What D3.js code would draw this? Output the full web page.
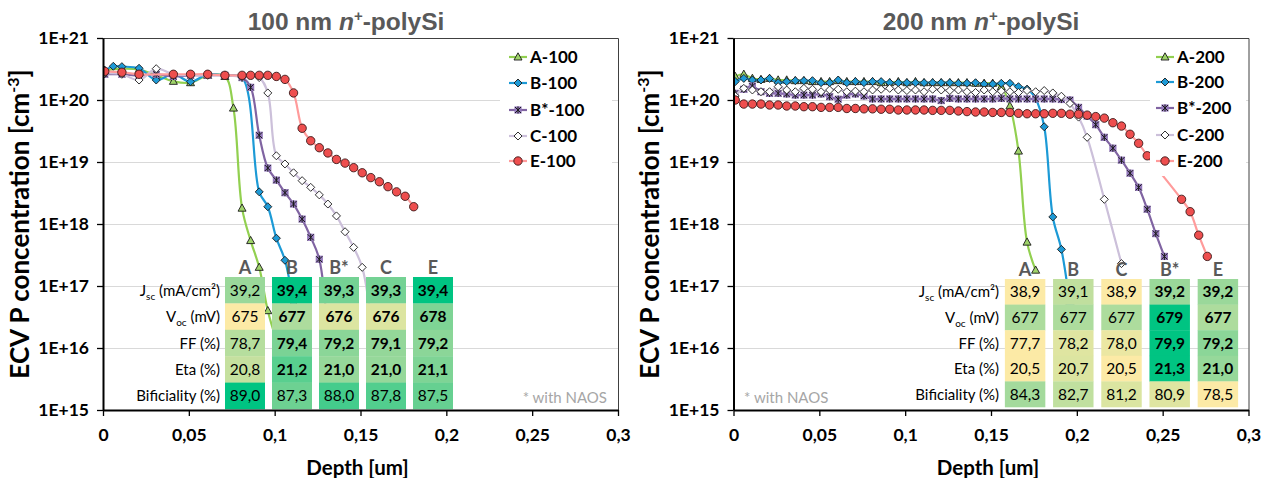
<!DOCTYPE html>
<html><head><meta charset="utf-8">
<script src="https://cdn.jsdelivr.net/npm/d3@7"></script>
<style>
body{margin:0;background:#fff;}
svg{display:block;font-family:Lato, "Open Sans", sans-serif;}
</style></head>
<body><svg id="chart" width="1266" height="478"></svg>
<script>
// ---------------- DATA ----------------
const yTickValues = [1e15,1e16,1e17,1e18,1e19,1e20,1e21];
const xTickValues = [0,0.05,0.1,0.15,0.2,0.25,0.3];

// 100 nm panel : depth grid (um) and ECV P concentration (cm^-3), null = no point
const depth100 = [0.001,0.006,0.011,0.016,0.021,0.026,0.031,0.036,0.041,0.046,
  0.051,0.056,0.061,0.066,0.071,0.076,0.081,0.086,0.091,0.096,
  0.101,0.106,0.111,0.116,0.121,0.126,0.131,0.136,0.141,0.146,
  0.151,0.156,0.161,0.166,0.171,0.176,0.181];
const A100 = [3.0e20,null,3.2e20,null,3.1e20,null,2.5e20,null,2.0e20,null,
  1.9e20,null,2.5e20,null,2.4e20,7.4e19,1.8e18,5.4e17,2.0e17,4.0e16,
  1.35e16,null,null,null,null,null,null,null,null,null,
  null,null,null,null,null,null,null];
const B100 = [3.0e20,3.5e20,3.45e20,null,3.25e20,null,2.1e20,null,2.6e20,null,
  1.97e20,null,2.6e20,null,2.5e20,null,2.3e20,null,3.3e18,1.9e18,
  5.9e17,2.6e17,5.0e16,null,null,null,null,null,null,null,
  null,null,null,null,null,null,null];
const Bs100 = [2.6e20,null,2.6e20,null,2.5e20,null,2.6e20,null,2.4e20,null,
  2.5e20,null,2.5e20,null,2.5e20,null,2.3e20,1.6e20,2.7e19,8.0e18,
  5.1e18,3.2e18,2.1e18,1.2e18,6.1e17,2.7e17,1.5e16,null,null,null,
  null,null,null,null,null,null,null];
const C100 = [2.7e20,null,2.6e20,null,2.1e20,null,3.2e20,null,2.6e20,null,
  2.5e20,null,2.5e20,null,2.5e20,null,2.4e20,null,2.3e20,1.3e20,
  1.26e19,9.3e18,6.7e18,5.0e18,3.9e18,2.95e18,2.1e18,1.35e18,7.5e17,4.2e17,
  2.0e17,3.0e16,null,null,null,null,null];
const E100 = [2.9e20,null,2.8e20,null,2.6e20,null,null,null,2.6e20,null,
  2.6e20,null,2.6e20,null,2.5e20,null,2.5e20,2.5e20,2.5e20,2.5e20,
  2.4e20,2.15e20,1.3e20,3.5e19,2.2e19,1.7e19,1.4e19,1.1e19,9.6e18,8.1e18,
  6.7e18,5.6e18,4.8e18,4.0e18,3.3e18,2.8e18,1.9e18];

// 200 nm panel
const depth200 = [0.001,0.006,0.011,0.016,0.021,0.026,0.031,0.036,0.041,0.046,
  0.051,0.056,0.061,0.066,0.071,0.076,0.081,0.086,0.091,0.096,
  0.101,0.106,0.111,0.116,0.121,0.126,0.131,0.136,0.141,0.146,
  0.151,0.156,0.161,0.166,0.171,0.176,0.181,0.186,0.191,0.196,
  0.201,0.206,0.211,0.216,0.221,0.226,0.231,0.236,0.241,0.246,
  0.251,0.256,0.261,0.266,0.271,0.276];
const A200 = [2.4e20,2.6e20,2.23e20,2.15e20,2.23e20,2.1e20,2.1e20,2.05e20,2.05e20,1.98e20,
  1.98e20,1.98e20,2.05e20,1.98e20,1.98e20,1.98e20,1.98e20,1.9e20,1.9e20,1.98e20,
  1.9e20,1.98e20,1.9e20,1.9e20,1.9e20,1.9e20,1.9e20,1.9e20,1.86e20,1.86e20,
  1.86e20,1.64e20,8.0e19,1.5e19,5.1e17,1.8e17,null,null,null,null,
  null,null,null,null,null,null,null,null,null,null,
  null,null,null,null,null,null];
const B200 = [1.98e20,2.23e20,2.1e20,2.1e20,2.23e20,1.9e20,1.98e20,2.05e20,2.05e20,2.05e20,
  1.9e20,1.9e20,2.1e20,1.9e20,1.98e20,1.9e20,1.98e20,1.98e20,1.9e20,1.9e20,
  1.9e20,1.9e20,1.9e20,1.9e20,1.9e20,1.9e20,1.86e20,1.86e20,1.9e20,1.81e20,
  1.81e20,1.86e20,1.86e20,1.64e20,1.5e20,1.05e20,3.7e19,1.3e18,3.9e17,5.0e16,
  null,null,null,null,null,null,null,null,null,null,
  null,null,null,null,null,null];
const Bs200 = [1.28e20,1.49e20,1.68e20,1.36e20,1.28e20,1.28e20,1.25e20,1.2e20,1.2e20,1.2e20,
  1.25e20,1.13e20,1.03e20,1.2e20,1.25e20,1.16e20,1.04e20,1.04e20,1.04e20,1.04e20,
  1.04e20,1.04e20,1.04e20,1.04e20,9.8e19,1.06e20,1.04e20,1.04e20,1.04e20,1.04e20,
  1.04e20,1.06e20,1.04e20,1.04e20,1.04e20,1.04e20,1.04e20,1.04e20,1.02e20,1.0e20,
  7.6e19,5.5e19,4.0e19,2.5e19,1.67e19,1.07e19,6.6e18,3.9e18,1.73e18,7.0e17,
  3.0e17,null,null,null,null,null];
const C200 = [1.16e20,1.54e20,1.45e20,1.36e20,1.36e20,1.64e20,1.45e20,1.36e20,1.54e20,1.49e20,
  1.36e20,1.45e20,1.49e20,1.36e20,1.39e20,1.36e20,1.45e20,1.49e20,1.54e20,1.45e20,
  1.42e20,1.45e20,1.36e20,1.49e20,1.45e20,1.42e20,1.45e20,1.36e20,1.32e20,1.45e20,
  1.36e20,1.39e20,1.36e20,1.32e20,1.42e20,1.36e20,1.42e20,1.3e20,1.15e20,8.8e19,
  5.3e19,2.5e19,null,2.5e18,null,2.3e17,null,null,null,null,
  null,null,null,null,null,null];
const E200 = [1.0e20,8.6e19,8.6e19,8.6e19,8.3e19,8.3e19,8.0e19,8.0e19,7.8e19,7.8e19,
  7.6e19,7.6e19,7.6e19,7.3e19,7.3e19,7.2e19,7.2e19,7.1e19,7.1e19,6.9e19,
  6.9e19,6.9e19,6.9e19,6.8e19,6.8e19,6.8e19,6.65e19,6.5e19,6.4e19,6.4e19,
  6.3e19,6.3e19,6.3e19,6.1e19,6.0e19,6.0e19,6.0e19,6.1e19,6.1e19,5.9e19,
  5.9e19,5.7e19,5.4e19,5.1e19,4.3e19,3.8e19,2.8e19,2.0e19,1.26e19,null,
  null,null,2.5e18,1.58e18,6.6e17,3.0e17];

const names100 = ["A-100","B-100","B*-100","C-100","E-100"];
const names200 = ["A-200","B-200","B*-200","C-200","E-200"];

// cell tables
const rowNames = ["Jsc","Voc","FF","Eta","Bif"];
const cols100 = ["A","B","B*","C","E"];
const jsc100 = [39.2,39.4,39.3,39.3,39.4];
const voc100 = [675,677,676,676,678];
const ff100  = [78.7,79.4,79.2,79.1,79.2];
const eta100 = [20.8,21.2,21.0,21.0,21.1];
const bif100 = [89.0,87.3,88.0,87.8,87.5];
const bold100 = [false,true,true,true,true];

const cols200 = ["A","B","C","B*","E"];
const jsc200 = [38.9,39.1,38.9,39.2,39.2];
const voc200 = [677,677,677,679,677];
const ff200  = [77.7,78.2,78.0,79.9,79.2];
const eta200 = [20.5,20.7,20.5,21.3,21.0];
const bif200 = [84.3,82.7,81.2,80.9,78.5];
const bold200 = [false,false,false,true,true];

// ---------------- STYLE ----------------
const seriesStyle = [
  {line:"#92D050", fill:"#9FD36A", shape:"tri"},
  {line:"#1C9AD6", fill:"#1E9AD6", shape:"dia"},
  {line:"#8064A2", fill:"#9479BC", shape:"star"},
  {line:"#CCC0DA", fill:"#FFFFFF", shape:"dia"},
  {line:"#FF9B9B", fill:"#EE4E4E", shape:"circ"}
];
const svg = d3.select("#chart");
const W = 515;
const y = d3.scaleLog().domain([1e15,1e21]).range([410,38]);
const fmtDec = v => d3.format(".1f")(v).replace(".", ",");

function drawMarker(sel, st) {
  const stroke = "#1a1a1a";
  if (st.shape === "tri") {
    sel.append("path").attr("d","M0,-4.2L4,3L-4,3Z").attr("fill",st.fill).attr("stroke",stroke).attr("stroke-width",0.9);
  } else if (st.shape === "dia") {
    sel.append("path").attr("d","M0,-4L4,0L0,4L-4,0Z").attr("fill",st.fill).attr("stroke",stroke).attr("stroke-width",0.9);
  } else if (st.shape === "star") {
    sel.append("rect").attr("x",-3.6).attr("y",-3.6).attr("width",7.2).attr("height",7.2).attr("fill",st.fill);
    sel.append("path").attr("d","M-3,-3L3,3M3,-3L-3,3M0,-3.6V3.6").attr("stroke",stroke).attr("stroke-width",1);
  } else {
    sel.append("circle").attr("r",4.2).attr("fill",st.fill).attr("stroke","#3a1a1a").attr("stroke-width",0.9);
  }
}

function panel(o) {
  const g = svg.append("g");
  const x = d3.scaleLinear().domain([0,0.3]).range([o.x0, o.x0 + W]);
  // grid
  g.append("g").selectAll("line").data(yTickValues.filter(v => v > 1e15 && v < 1e21)).join("line")
    .attr("x1", x(0)).attr("x2", x(0.3))
    .attr("y1", d => Math.round(y(d)) + 0.5).attr("y2", d => Math.round(y(d)) + 0.5)
    .attr("stroke", "#D9D9D9").attr("stroke-width", 1);
  // frame (top + right)
  g.append("path").attr("d", `M${x(0)},${y(1e21)+0.5}H${x(0.3)+0.5}V${y(1e15)}`)
    .attr("fill","none").attr("stroke","#404040").attr("stroke-width",1);

  // clip
  const cid = "clip" + o.id;
  svg.append("clipPath").attr("id", cid).append("rect")
    .attr("x", x(0)).attr("y", y(1e21)).attr("width", W).attr("height", y(1e15) - y(1e21));
  const sg = g.append("g").attr("clip-path", `url(#${cid})`);
  const line = d3.line().x(p => x(p[0])).y(p => y(p[1])).curve(d3.curveCatmullRom.alpha(0.5));
  o.series.forEach((vals, i) => {
    const st = seriesStyle[i];
    const pts = o.depth.map((d, j) => [d, vals[j]]).filter(p => p[1] != null);
    sg.append("path").datum(pts).attr("d", line).attr("fill","none")
      .attr("stroke", st.line).attr("stroke-width", 2.2);
    sg.append("g").selectAll("g").data(pts).join("g")
      .attr("transform", p => `translate(${x(p[0])},${y(p[1])})`)
      .each(function(){ drawMarker(d3.select(this), st); });
  });

  // legend
  const lg = g.append("g");
  lg.append("rect").attr("x", o.legBox[0]).attr("y", o.legBox[1]).attr("width", o.legBox[2]).attr("height", o.legBox[3]).attr("fill","#fff");
  o.names.forEach((n, i) => {
    const st = seriesStyle[i];
    const cy = o.legY[i];
    const eg = lg.append("g");
    eg.append("line").attr("x1", o.legX).attr("x2", o.legX + 18).attr("y1", cy).attr("y2", cy)
      .attr("stroke", st.line).attr("stroke-width", 2.2);
    const mg = eg.append("g").attr("transform", `translate(${o.legX + 9},${cy})`);
    drawMarker(mg, st);
    eg.append("text").attr("x", o.legX + 21).attr("y", cy + 6).text(n)
      .attr("font-size", 17).attr("font-weight", 700).attr("fill", "#000");
  });

  // table
  const tg = g.append("g");
  const rowVals = [o.jsc, o.voc, o.ff, o.eta, o.bif];
  const colX = d3.scaleBand().domain(o.cols).range(o.tabRange).paddingInner(o.tabPad).paddingOuter(o.tabPad / 2);
  const rowY = d3.scaleBand().domain(rowNames).range(o.rowRange);
  rowVals.forEach((vals, r) => {
    const all = o.allRows[r];
    const mn = d3.min(all), mx = d3.max(all);
    const col = d3.scaleLinear().domain([0,0.25,0.55,0.85,1].map(t => mn + t * (mx - mn)))
      .range(["#FCEAA6","#DCE5A1","#A4DA9C","#6BD192","#00C482"]).clamp(true);
    o.cols.forEach((c, k) => {
      const v = vals[k];
      tg.append("rect").attr("x", colX(c)).attr("y", rowY(rowNames[r]))
        .attr("width", colX.bandwidth()).attr("height", rowY.bandwidth() + 0.3)
        .attr("fill", col(v));
      tg.append("text").attr("x", colX(c) + colX.bandwidth() / 2).attr("y", rowY(rowNames[r]) + rowY.bandwidth() / 2 + 5.5)
        .attr("text-anchor","middle").attr("font-size", 15.5)
        .attr("font-weight", (o.bold[k] && r < 4) ? 700 : 400).attr("fill","#000")
        .text(r === 1 ? d3.format("d")(v) : fmtDec(v));
    });
  });
  // column headers
  o.cols.forEach(c => {
    tg.append("text").attr("x", colX(c) + colX.bandwidth() / 2).attr("y", o.rowRange[0] - 3)
      .attr("text-anchor","middle").attr("font-size", 18).attr("font-weight", 700)
      .attr("fill", "#595959").text(c);
  });
  // row labels
  const lx = o.labelX;
  const rl = (r) => rowY(rowNames[r]) + rowY.bandwidth() / 2 + 5.5;
  let t = tg.append("text").attr("x", lx).attr("y", rl(0)).attr("text-anchor","end").attr("font-size",15).attr("fill","#000");
  t.append("tspan").text("J");
  t.append("tspan").attr("font-size",10).attr("dy",4).text("sc");
  t.append("tspan").attr("dy",-4).text(" (mA/cm²)");
  t = tg.append("text").attr("x", lx).attr("y", rl(1)).attr("text-anchor","end").attr("font-size",15).attr("fill","#000");
  t.append("tspan").text("V");
  t.append("tspan").attr("font-size",10).attr("dy",4).text("oc");
  t.append("tspan").attr("dy",-4).text(" (mV)");
  ["FF (%)","Eta (%)","Bificiality (%)"].forEach((s, i) => {
    tg.append("text").attr("x", lx).attr("y", rl(i + 2)).attr("text-anchor","end").attr("font-size",15).attr("fill","#000").text(s);
  });
  // note
  g.append("text").attr("x", o.noteX).attr("y", 403).attr("text-anchor", o.noteAnchor)
    .attr("font-size", 15).attr("fill", "#A6A6A6").text("* with NAOS");

  // axes
  const ya = g.append("g").attr("transform", `translate(${x(0)},0)`)
    .call(d3.axisLeft(y).tickValues(yTickValues).tickSize(6).tickSizeOuter(0).tickPadding(8)
      .tickFormat(v => "1E+" + Math.round(Math.log10(v))));
  const xa = g.append("g").attr("transform", `translate(0,${y(1e15)})`)
    .call(d3.axisBottom(x).tickValues(xTickValues).tickSize(6).tickSizeOuter(0).tickPadding(13)
      .tickFormat(v => v === 0 ? "0" : String(+v.toFixed(2)).replace(".", ",")));
  [ya, xa].forEach(a => {
    a.select(".domain").attr("stroke","#000").attr("stroke-width",2);
    a.selectAll(".tick line").attr("stroke","#000").attr("stroke-width",1.3);
    a.selectAll(".tick text").attr("font-size",17.5).attr("font-weight",700).attr("fill","#000")
      .attr("font-family","Lato, sans-serif");
  });

  // x-axis title
  g.append("text").attr("x", (x(0) + x(0.3)) / 2 - 3).attr("y", 475).attr("text-anchor","middle")
    .attr("font-size", 20.5).attr("font-weight", 700).attr("fill","#000").text("Depth [um]");
  // y-axis title
  const yt = g.append("text").attr("transform", `translate(${o.ytX},${(y(1e15) + y(1e21)) / 2}) rotate(-90)`)
    .attr("text-anchor","middle").attr("font-size", 26).attr("font-weight", 700).attr("fill","#000");
  yt.append("tspan").text("ECV P concentration [cm");
  yt.append("tspan").attr("font-size", 16).attr("dy", -10).text("-3");
  yt.append("tspan").attr("dy", 10).text("]");
  // title
  const tt = g.append("text").attr("x", o.titleX).attr("y", 30).attr("text-anchor","middle")
    .attr("font-family","'Liberation Sans', Arial, sans-serif")
    .attr("font-size", 24.5).attr("font-weight", 700).attr("fill", "#595959");
  tt.append("tspan").text(o.titleNum + " nm ");
  tt.append("tspan").attr("font-style","italic").text("n");
  tt.append("tspan").attr("font-size", 15).attr("dy", -9).text("+");
  tt.append("tspan").attr("dy", 9).text("-polySi");
}

const allRows = [jsc100.concat(jsc200), voc100.concat(voc200), ff100.concat(ff200), eta100.concat(eta200), bif100.concat(bif200)];

panel({
  id: "L", x0: 103, depth: depth100, series: [A100, B100, Bs100, C100, E100], names: names100,
  legX: 509, legY: [57, 83, 110, 136, 161], legBox: [500, 44, 112, 128],
  cols: cols100, jsc: jsc100, voc: voc100, ff: ff100, eta: eta100, bif: bif100, bold: bold100,
  tabRange: [221.5, 456.5], tabPad: 7 / 47, rowRange: [277, 409], labelX: 220, allRows,
  noteX: 607, noteAnchor: "end", ytX: 29, titleX: 346, titleNum: "100"
});
panel({
  id: "R", x0: 733.5, depth: depth200, series: [A200, B200, Bs200, C200, E200], names: names200,
  legX: 1156, legY: [57, 82, 108, 135, 161], legBox: [1150, 44, 96, 132],
  cols: cols200, jsc: jsc200, voc: voc200, ff: ff200, eta: eta200, bif: bif200, bold: bold200,
  tabRange: [1001, 1242], tabPad: 7.75 / 48.25, rowRange: [279, 407], labelX: 999, allRows,
  noteX: 744, noteAnchor: "start", ytX: 659, titleX: 981, titleNum: "200"
});
</script></body></html>
